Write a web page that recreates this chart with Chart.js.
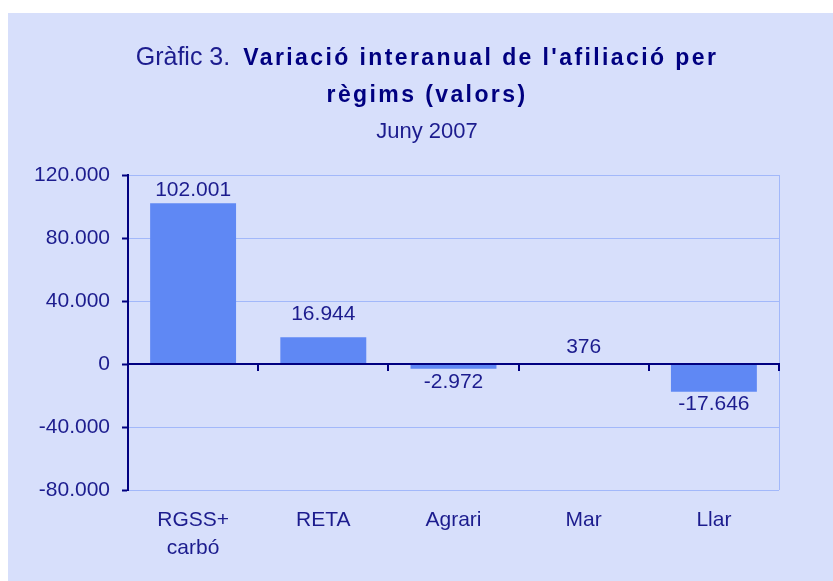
<!DOCTYPE html>
<html>
<head>
<meta charset="utf-8">
<script src="https://cdn.jsdelivr.net/npm/chart.js@4/dist/chart.umd.min.js"></script>
<style>
  html, body { margin: 0; padding: 0; background: #fff; }
  canvas { display: block; }
</style>
</head>
<body>
<canvas id="chart" width="833" height="581"></canvas>
<script>
// data
const categories = [['RGSS+', 'carbó'], 'RETA', 'Agrari', 'Mar', 'Llar'];
const values = [102001, 16944, -2972, 376, -17646];
const yTicks = [120000, 80000, 40000, 0, -40000, -80000];

// label gap from bar end (px), per bar
const labelGap = [13, 23, 14, 16, 12];

const NAVY = '#000080';
const TEXT = '#1c1c8e';
const GRID = '#a2b8fa';
const PANEL = '#d7dffb';
const BAR = '#5f88f4';
const FONT = '"Liberation Sans", Arial, Helvetica, sans-serif';

function fmt(v) {
    const s = Math.abs(v).toString().replace(/\B(?=(\d{3})+(?!\d))/g, '.');
    return (v < 0 ? '-' : '') + s;
}

const framePlugin = {
    id: 'frame',
    beforeDraw(chart) {
        const ctx = chart.ctx;
        ctx.save();
        ctx.fillStyle = '#fff';
        ctx.fillRect(0, 0, chart.width, chart.height);
        ctx.fillStyle = PANEL;
        ctx.fillRect(8, 13, chart.width - 8, chart.height - 13);

        // title
        const cx = 427;
        const gap = 13;
        ctx.textBaseline = 'alphabetic';
        ctx.textAlign = 'left';
        const reg = 'Gràfic 3.';
        const bold = "Variació interanual de l'afiliació per";
        ctx.font = '25px ' + FONT;
        ctx.letterSpacing = '0px';
        const w1 = ctx.measureText(reg).width;
        ctx.font = 'bold 23px ' + FONT;
        ctx.letterSpacing = '2.4px';
        const w2 = ctx.measureText(bold).width;
        const x = cx - (w1 + gap + w2) / 2;
        ctx.font = '25px ' + FONT;
        ctx.letterSpacing = '0px';
        ctx.fillStyle = TEXT;
        ctx.fillText(reg, x, 65);
        ctx.font = 'bold 23px ' + FONT;
        ctx.letterSpacing = '2.4px';
        ctx.fillStyle = NAVY;
        ctx.fillText(bold, x + w1 + gap, 65);
        ctx.textAlign = 'center';
        ctx.fillText('règims (valors)', cx, 102);
        ctx.letterSpacing = '0px';
        ctx.font = '22px ' + FONT;
        ctx.fillStyle = TEXT;
        ctx.fillText('Juny 2007', cx, 138);
        ctx.restore();
    },
    afterDatasetsDraw(chart) {
        const ctx = chart.ctx;
        const area = chart.chartArea;
        const yScale = chart.scales.y;
        const y0 = yScale.getPixelForValue(0);
        ctx.save();
        // right border
        ctx.strokeStyle = GRID;
        ctx.lineWidth = 1;
        ctx.beginPath();
        ctx.moveTo(area.right + 0.5, area.top);
        ctx.lineTo(area.right + 0.5, area.bottom);
        ctx.stroke();
        // zero axis with tick marks at category boundaries
        ctx.strokeStyle = NAVY;
        ctx.lineWidth = 2;
        ctx.beginPath();
        ctx.moveTo(area.left, y0);
        ctx.lineTo(area.right + 1, y0);
        const step = (area.right - area.left) / categories.length;
        for (let i = 1; i <= categories.length; i++) {
            const tx = Math.round(area.left + i * step);
            ctx.moveTo(tx, y0);
            ctx.lineTo(tx, y0 + 7);
        }
        ctx.stroke();
        // value labels
        ctx.font = '21px ' + FONT;
        ctx.fillStyle = TEXT;
        ctx.textAlign = 'center';
        ctx.textBaseline = 'middle';
        chart.getDatasetMeta(0).data.forEach((bar, i) => {
            const v = values[i];
            const y = v >= 0 ? bar.y - labelGap[i] : bar.y + labelGap[i];
            ctx.fillText(fmt(v), bar.x, y);
        });
        ctx.restore();
    }
};

new Chart(document.getElementById('chart'), {
    type: 'bar',
    data: {
        labels: categories,
        datasets: [{
            data: values,
            backgroundColor: BAR,
            borderWidth: 0,
            barPercentage: 0.66,
            categoryPercentage: 1
        }]
    },
    options: {
        responsive: false,
        animation: false,
        events: [],
        layout: { padding: { top: 175, left: 8, right: 54, bottom: 0 } },
        plugins: {
            legend: { display: false },
            title: { display: false },
            tooltip: { enabled: false }
        },
        scales: {
            x: {
                afterFit(scale) { scale.height = 91; },
                grid: { display: false, drawTicks: false },
                border: { display: false },
                ticks: {
                    color: TEXT,
                    padding: 16,
                    maxRotation: 0,
                    font: { family: FONT, size: 21, lineHeight: '28px' }
                }
            },
            y: {
                min: -80000,
                max: 120000,
                afterFit(scale) { scale.width = 120; },
                afterBuildTicks(scale) {
                    scale.ticks = yTicks.map(v => ({ value: v }));
                },
                grid: {
                    color: GRID,
                    lineWidth: 1,
                    tickColor: NAVY,
                    tickWidth: 2,
                    tickLength: 6
                },
                border: { display: true, color: NAVY, width: 2 },
                ticks: {
                    color: TEXT,
                    padding: 12,
                    font: { family: FONT, size: 21 },
                    callback: v => fmt(v)
                }
            }
        }
    },
    plugins: [framePlugin]
});
</script>
</body>
</html>
